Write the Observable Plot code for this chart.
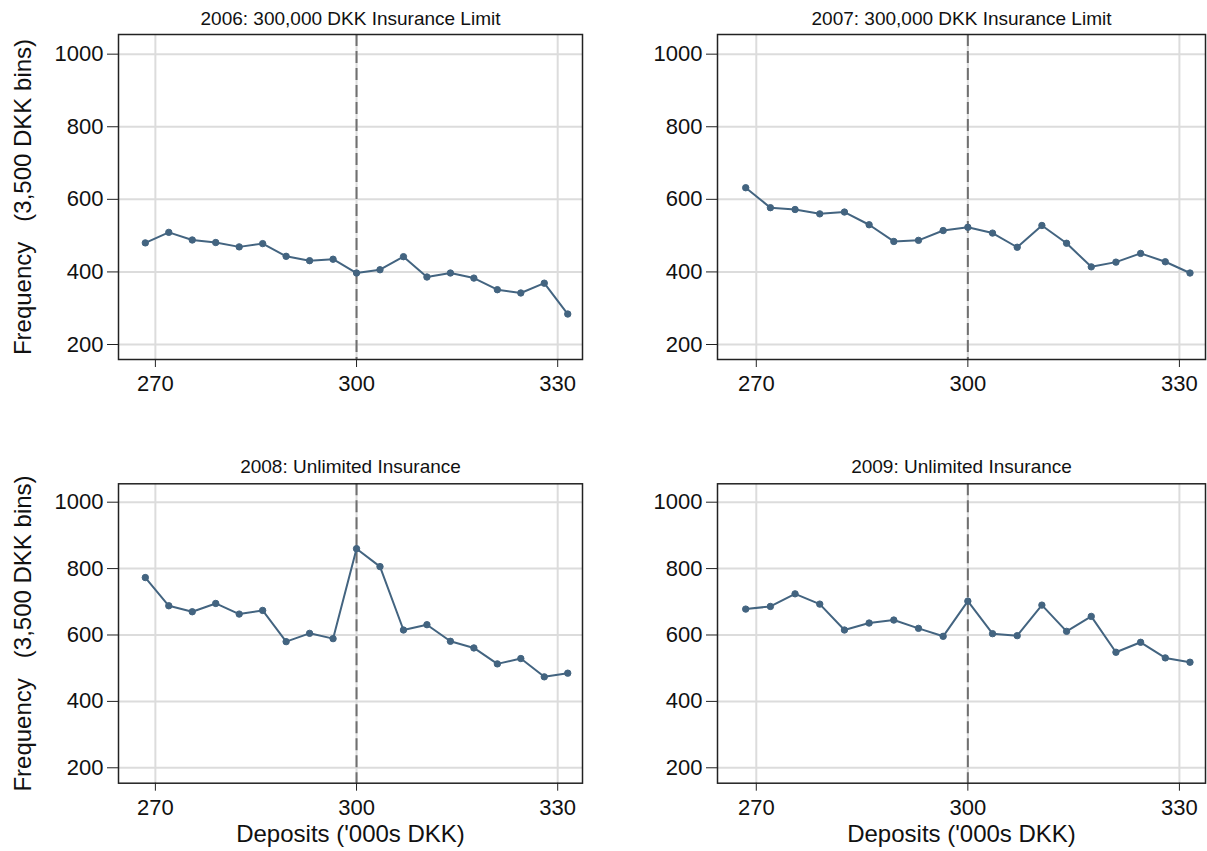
<!DOCTYPE html>
<html><head><meta charset="utf-8">
<script src="https://cdn.jsdelivr.net/npm/d3@7"></script>
<script src="https://cdn.jsdelivr.net/npm/@observablehq/plot@0.6"></script>
<style>
body{margin:0;background:#fff;}
#chart{position:relative;width:1207px;height:851px;background:#fff;font-family:"Liberation Sans",Arial,sans-serif;overflow:hidden;}
#chart svg{position:absolute;overflow:visible;}
</style></head><body><div id="chart"></div>
<script>
// bin centres, '000s DKK (3,500 DKK bins)
const deposits = [268.5, 272, 275.5, 279, 282.5, 286, 289.5, 293, 296.5, 300, 303.5, 307, 310.5, 314, 317.5, 321, 324.5, 328, 331.5];
const freq2006 = [480, 509, 488, 481, 469, 478, 443, 431, 435, 397, 406, 442, 386, 397, 383, 351, 342, 369, 284];
const freq2007 = [632, 577, 572, 560, 565, 530, 484, 487, 514, 523, 507, 468, 528, 479, 414, 427, 451, 428, 397];
const freq2008 = [773, 688, 670, 695, 663, 674, 580, 605, 589, 860, 806, 615, 631, 581, 561, 513, 529, 474, 485];
const freq2009 = [678, 686, 724, 693, 615, 636, 645, 620, 596, 702, 604, 598, 690, 611, 656, 548, 578, 531, 518];
const titles = ["2006: 300,000 DKK Insurance Limit", "2007: 300,000 DKK Insurance Limit", "2008: Unlimited Insurance", "2009: Unlimited Insurance"];
const xTicks = [270, 300, 330];
const yTicks = [200, 400, 600, 800, 1000];
const cutoff = [300];
const yLabel = "Frequency\u00a0\u00a0\u00a0(3,500 DKK bins)";
const xLabel = "Deposits ('000s DKK)";

const lineColor = "#436480";
const font = "Liberation Sans, Arial, sans-serif";

function panel(o) {
  const data = deposits.map((d, i) => ({x: d, y: o.values[i]}));
  const marks = [
    Plot.gridY(yTicks, {stroke: "#dcdcdc", strokeOpacity: 1, strokeWidth: 2}),
    Plot.gridX(xTicks, {stroke: "#dcdcdc", strokeOpacity: 1, strokeWidth: 2}),
    Plot.ruleX(cutoff, {stroke: "#707070", strokeWidth: 2, strokeDasharray: "12,5"}),
    Plot.line(data, {x: "x", y: "y", stroke: lineColor, strokeWidth: 2}),
    Plot.dot(data, {x: "x", y: "y", r: 3.2, fill: lineColor, stroke: lineColor, strokeWidth: 1}),
    Plot.frame({stroke: "#222", strokeWidth: 1.5}),
    Plot.axisY(yTicks, {tickSize: 11, tickPadding: 4, fontSize: 22, label: null, tickFormat: d => String(d), stroke: "#222", fill: "#111"}),
    Plot.axisX(xTicks, {tickSize: 8, tickPadding: 8, fontSize: 22, label: null, tickFormat: d => String(d), stroke: "#222", fill: "#111"}),
    Plot.text([o.title], {frameAnchor: "top", lineAnchor: "middle", textAnchor: "middle", dy: o.titleDy, fontSize: 19, fill: "#111"})
  ];
  if (o.showY) marks.push(Plot.text([yLabel], {frameAnchor: "left", textAnchor: "middle", lineAnchor: "middle", rotate: -90, dx: 23 - o.ml, fontSize: 24, fill: "#111"}));
  if (o.showX) marks.push(Plot.text([xLabel], {frameAnchor: "bottom", textAnchor: "middle", lineAnchor: "middle", dy: o.xLabelDy, fontSize: 24, fill: "#111"}));
  const svg = Plot.plot({
    width: o.width, height: o.height,
    marginLeft: o.ml, marginRight: o.mr, marginTop: o.mt, marginBottom: o.mb,
    style: {fontFamily: font, background: "transparent", overflow: "visible"},
    x: {domain: [264.5, 333.7]},
    y: {domain: o.yDomain},
    marks
  });
  svg.style.left = o.left + "px";
  svg.style.top = o.top + "px";
  document.getElementById("chart").appendChild(svg);
}

panel({values: freq2006, title: titles[0], left: 0, top: 0, width: 600, height: 420,
  ml: 118, mr: 18, mt: 34, mb: 61, yDomain: [158.7, 1054.2], titleDy: -15.7, showY: true, showX: false});
panel({values: freq2007, title: titles[1], left: 600, top: 0, width: 607, height: 420,
  ml: 117, mr: 2, mt: 34, mb: 61, yDomain: [158.7, 1054.2], titleDy: -15.7, showY: false, showX: false});
panel({values: freq2008, title: titles[2], left: 0, top: 440, width: 600, height: 411,
  ml: 118, mr: 18, mt: 43.3, mb: 68.3, yDomain: [153.6, 1055.4], titleDy: -17.3, showY: true, showX: true, xLabelDy: 51.3});
panel({values: freq2009, title: titles[3], left: 600, top: 440, width: 607, height: 411,
  ml: 117, mr: 2, mt: 43.3, mb: 68.3, yDomain: [153.6, 1055.4], titleDy: -17.3, showY: false, showX: true, xLabelDy: 51.3});
</script>
</body></html>
